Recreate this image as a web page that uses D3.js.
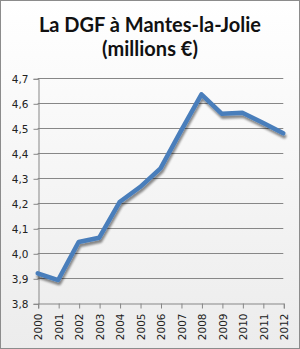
<!DOCTYPE html>
<html><head><meta charset="utf-8">
<script src="https://cdn.jsdelivr.net/npm/d3@7"></script>
<style>body{margin:0;background:#fff}svg{display:block}</style>
</head><body>
<svg id="c" width="300" height="349"></svg>
<script>
const years = [2000,2001,2002,2003,2004,2005,2006,2007,2008,2009,2010,2011,2012];
const values = [3.92,3.893,4.045,4.062,4.205,4.265,4.34,4.49,4.636,4.558,4.562,4.522,4.48];
const yTicks = [3.8,3.9,4.0,4.1,4.2,4.3,4.4,4.5,4.6,4.7];
const titleLines = ["La DGF à Mantes-la-Jolie","(millions €)"];

const svg = d3.select("#c");
const defs = svg.append("defs");
const g = defs.append("linearGradient").attr("id","bg").attr("x1",0).attr("y1",0).attr("x2",0).attr("y2",1);
g.append("stop").attr("offset","0%").attr("stop-color","#ffffff");
g.append("stop").attr("offset","100%").attr("stop-color","#ececec");
const f = defs.append("filter").attr("id","sh").attr("x","-10%").attr("y","-10%").attr("width","120%").attr("height","130%");
f.append("feGaussianBlur").attr("in","SourceAlpha").attr("stdDeviation",1.2).attr("result","b");
f.append("feOffset").attr("in","b").attr("dx",1).attr("dy",2.5).attr("result","o");
f.append("feComponentTransfer").attr("in","o").attr("result","o2").append("feFuncA").attr("type","linear").attr("slope",0.45);
const m = f.append("feMerge");
m.append("feMergeNode").attr("in","o2");
m.append("feMergeNode").attr("in","SourceGraphic");

svg.append("rect").attr("x",0.5).attr("y",0.5).attr("width",299).attr("height",348)
  .attr("fill","url(#bg)").attr("stroke","#8c8c8c");

const x = d3.scaleLinear().domain([2000,2012]).range([37.7,283.3]);
const y = d3.scaleLinear().domain([3.8,4.7]).range([303.3,78.3]);

// title
svg.append("text").attr("x",150).attr("y",32).attr("text-anchor","middle")
  .attr("font-family","Lato, 'Open Sans', sans-serif").attr("font-weight","bold").attr("font-size",20)
  .attr("fill","#111").text(titleLines[0]);
svg.append("text").attr("x",150).attr("y",56).attr("text-anchor","middle")
  .attr("font-family","Lato, 'Open Sans', sans-serif").attr("font-weight","bold").attr("font-size",20)
  .attr("fill","#111").text(titleLines[1]);

// gridlines
svg.append("g").selectAll("line").data(yTicks.slice(1)).join("line")
  .attr("x1",x(2000)).attr("x2",x(2012)).attr("y1",d=>Math.round(y(d))+0.5).attr("y2",d=>Math.round(y(d))+0.5)
  .attr("stroke","#878787").attr("stroke-width",1);

// y axis
const yAxis = d3.axisLeft(y).tickValues(yTicks).tickSize(5).tickPadding(5)
  .tickFormat(d=>d3.format(".1f")(d).replace(".",","));
const ya = svg.append("g").attr("transform",`translate(${Math.round(x(2000))+0.5},0.5)`).call(yAxis);
ya.select(".domain").attr("stroke","#878787");
ya.selectAll(".tick line").attr("stroke","#878787");
ya.selectAll(".tick text").attr("font-family","'DejaVu Sans', Verdana, sans-serif").attr("font-size",10.5).attr("fill","#222");

// x axis
const xAxis = d3.axisBottom(x).tickValues(years).tickSize(5).tickPadding(4).tickFormat(d3.format("d"));
const xa = svg.append("g").attr("transform",`translate(0.5,${Math.round(y(3.8))+0.5})`).call(xAxis);
xa.select(".domain").attr("stroke","#878787");
xa.selectAll(".tick line").attr("stroke","#878787");
xa.selectAll(".tick text").attr("font-family","'DejaVu Sans', Verdana, sans-serif").attr("font-size",10.5).attr("fill","#222")
  .attr("text-anchor","end").attr("dy","0.35em").attr("x",0).attr("y",0)
  .attr("transform","translate(0,10) rotate(-90)");

// line
const data = years.map((yr,i)=>({yr, v: values[i]}));
svg.append("path").datum(data)
  .attr("d", d3.line().x(d=>x(d.yr)).y(d=>y(d.v)))
  .attr("fill","none").attr("stroke","#4a7ebb").attr("stroke-width",4.5)
  .attr("stroke-linejoin","round").attr("stroke-linecap","round").attr("filter","url(#sh)");
</script>
</body></html>
